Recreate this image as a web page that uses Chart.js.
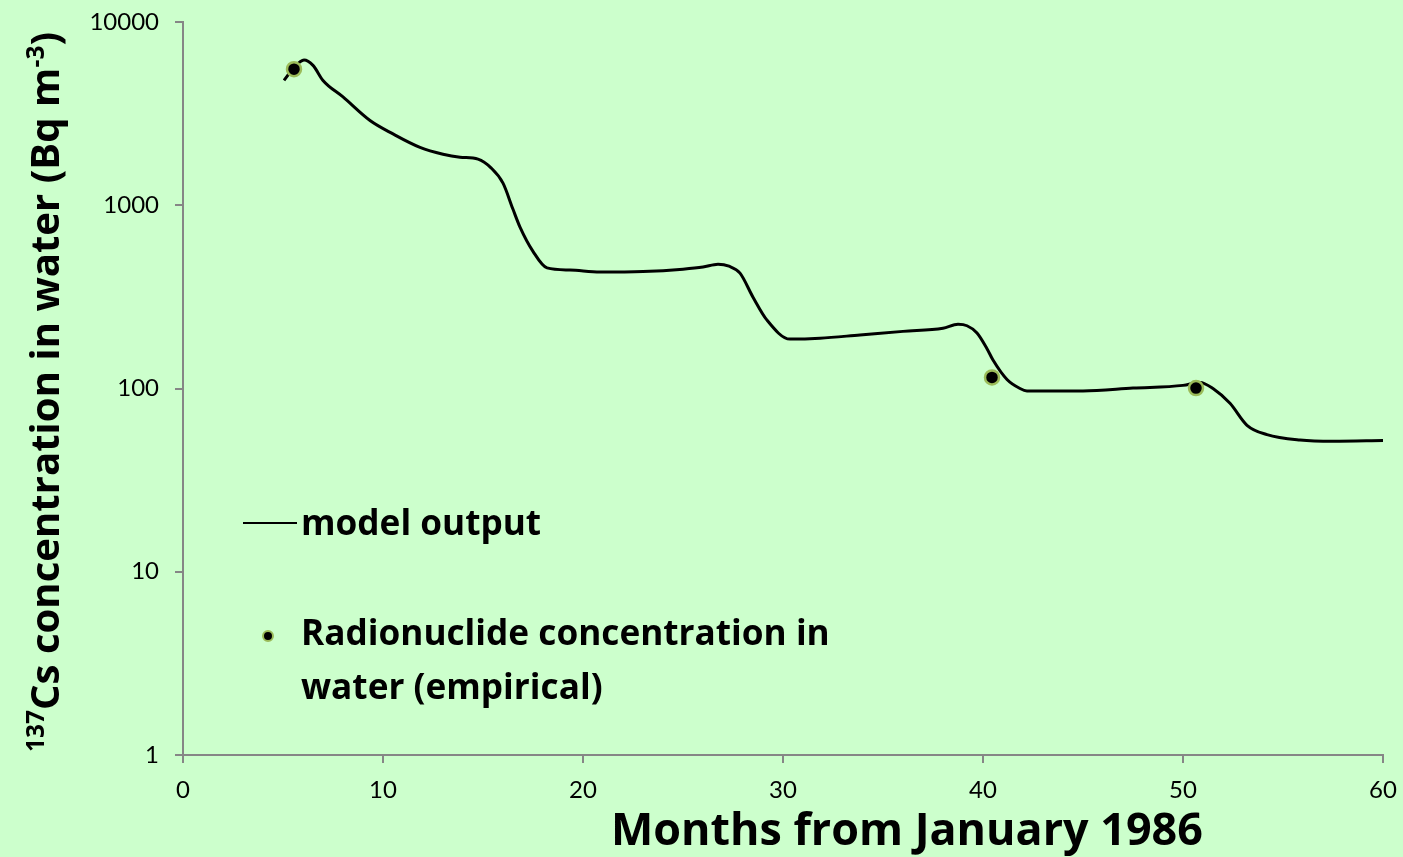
<!DOCTYPE html>
<html>
<head>
<meta charset="utf-8">
<script src="https://cdn.jsdelivr.net/npm/chart.js@4.4.1/dist/chart.umd.min.js"></script>
<style>
  html, body { margin: 0; padding: 0; background: #ccffcc; }
  #wrap { position: relative; width: 1403px; height: 857px; }
</style>
</head>
<body>
<div id="wrap"><canvas id="chart" width="1403" height="857"></canvas></div>
<script>
// Datos del modelo (meses desde enero 1986, Bq m-3)
const modelMonths = [5.05, 5.5, 6.05, 6.5, 7.0, 8.0, 9.35, 10.5, 11.85, 13.0, 13.85, 14.75, 15.4, 16.0, 16.5, 16.85, 17.5, 18.2,
  19.35, 20.85, 23, 25, 26, 26.75, 27.3, 27.85, 28.5, 29.2, 30.35, 31.85, 33.85, 36, 38.0, 38.75, 39.2, 39.7, 40.2, 40.5,
  41.2, 41.85, 42.2, 45, 47.5, 50, 50.85, 51.5, 52.35, 53.2, 54.2, 55.85, 57.5, 60];
const modelValues = [4800, 5550, 6200, 5800, 4800, 3900, 2900, 2450, 2070, 1900, 1830, 1785, 1600, 1320, 950, 760, 560, 455,
  443, 432, 435, 448, 460, 477, 465, 426, 315, 236, 186, 188, 196, 205, 213, 224, 220, 201, 165, 143,
  112, 100, 97, 97, 100.5, 104, 108, 100, 83, 63, 56, 52.3, 51.5, 52];

// Datos empíricos
const obsMonths = [5.55, 40.45, 50.65];
const obsValues = [5530, 115, 100.5];

// Marcas de ejes
const yTicks = [1, 10, 100, 1000, 10000];
const xTicks = [0, 10, 20, 30, 40, 50, 60];

const axisColor = '#868686';
const tickFont = 'Lato, "Open Sans", sans-serif';
const titleFont = '"Open Sans", Lato, sans-serif';

/**
 * Ajusta el tamaño de fuente para que el texto ocupe un ancho dado
 */
function fitFont(ctx, text, width, base) {
  ctx.font = 'bold ' + base + 'px ' + titleFont;
  const w = ctx.measureText(text).width;
  return base * width / w;
}

/**
 * Dibuja títulos de ejes y leyenda sobre el lienzo
 */
const annotations = {
  id: 'annotations',
  afterDraw(chart) {
    const ctx = chart.ctx;
    ctx.save();
    ctx.fillStyle = '#000';
    ctx.textBaseline = 'alphabetic';

    // Título eje X
    const xt = 'Months from January 1986';
    ctx.font = 'bold ' + fitFont(ctx, xt, 592, 44) + 'px ' + titleFont;
    ctx.textAlign = 'left';
    ctx.fillText(xt, 611, 845);

    // Título eje Y con superíndices
    const parts = [
      { t: '137', sup: true },
      { t: 'Cs concentration in water (Bq m', sup: false },
      { t: '-3', sup: true },
      { t: ')', sup: false }
    ];
    const bigSize = 36, smallSize = 22;
    let total = 0;
    parts.forEach(p => {
      ctx.font = 'bold ' + (p.sup ? smallSize : bigSize) + 'px ' + titleFont;
      p.w = ctx.measureText(p.t).width;
      total += p.w;
    });
    const k = 720 / total;
    ctx.translate(59, 392);
    ctx.rotate(-Math.PI / 2);
    ctx.textAlign = 'left';
    let x = -360;
    parts.forEach(p => {
      ctx.font = 'bold ' + ((p.sup ? smallSize : bigSize) * k) + 'px ' + titleFont;
      ctx.fillText(p.t, x, p.sup ? -15 : 0);
      x += p.w * k;
    });
    ctx.setTransform(1, 0, 0, 1, 0, 0);

    // Leyenda
    ctx.strokeStyle = '#000';
    ctx.lineWidth = 2;
    ctx.beginPath();
    ctx.moveTo(243, 523);
    ctx.lineTo(297, 523);
    ctx.stroke();

    ctx.textAlign = 'left';
    const l1 = 'Radionuclide concentration in';
    const legSize = fitFont(ctx, l1, 529, 34);
    ctx.font = 'bold ' + legSize + 'px ' + titleFont;
    ctx.fillText('model output', 301, 535);
    ctx.fillText(l1, 301, 645);
    ctx.fillText('water (empirical)', 301, 699);

    ctx.beginPath();
    ctx.arc(268, 636, 5, 0, Math.PI * 2);
    ctx.fillStyle = '#000';
    ctx.fill();
    ctx.lineWidth = 2;
    ctx.strokeStyle = '#9bbb59';
    ctx.stroke();
    ctx.restore();
  }
};

const ctx = document.getElementById('chart').getContext('2d');
new Chart(ctx, {
  data: {
    datasets: [
      {
        type: 'line',
        label: 'model output',
        data: modelMonths.map((m, i) => ({ x: m, y: modelValues[i] })),
        borderColor: '#000',
        borderWidth: 3,
        pointRadius: 0,
        cubicInterpolationMode: 'monotone',
        fill: false,
        order: 2
      },
      {
        type: 'scatter',
        label: 'Radionuclide concentration in water (empirical)',
        data: obsMonths.map((m, i) => ({ x: m, y: obsValues[i] })),
        backgroundColor: '#000',
        borderColor: '#9bbb59',
        borderWidth: 2.5,
        pointRadius: 7,
        order: 1
      }
    ]
  },
  options: {
    responsive: false,
    animation: false,
    layout: { padding: { top: 22, right: 20, left: 0, bottom: 0 } },
    plugins: {
      legend: { display: false },
      tooltip: { enabled: false }
    },
    scales: {
      x: {
        type: 'linear',
        min: 0,
        max: 60,
        afterBuildTicks: axis => { axis.ticks = xTicks.map(v => ({ value: v })); },
        afterFit: axis => { axis.height = 102; axis.paddingLeft = 0; axis.paddingRight = 0; },
        grid: { drawOnChartArea: false, drawTicks: true, tickLength: 8, color: axisColor, lineWidth: 2 },
        border: { color: axisColor, width: 2 },
        ticks: { color: '#000', font: { family: tickFont, size: 24 }, padding: 13, maxRotation: 0 }
      },
      y: {
        type: 'logarithmic',
        min: 1,
        max: 10000,
        afterBuildTicks: axis => { axis.ticks = yTicks.map(v => ({ value: v })); },
        afterFit: axis => { axis.width = 183; axis.paddingTop = 0; axis.paddingBottom = 0; },
        grid: { drawOnChartArea: false, drawTicks: true, tickLength: 8, color: axisColor, lineWidth: 2 },
        border: { color: axisColor, width: 2 },
        ticks: { color: '#000', font: { family: tickFont, size: 24 }, padding: 16, callback: v => String(v) }
      }
    }
  },
  plugins: [annotations]
});
</script>
</body>
</html>
